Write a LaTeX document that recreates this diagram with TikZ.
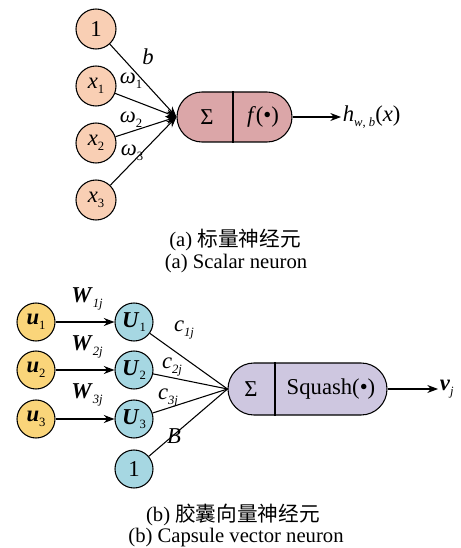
\documentclass[tikz,border=0pt]{standalone}
\usepackage{fontspec}
\setmainfont{Liberation Serif}
\newfontfamily\tnr{Liberation Serif}
\newfontfamily\cjk{Noto Sans CJK SC}
\usetikzlibrary{arrows.meta,shapes.misc}

\definecolor{peachA}{RGB}{249,207,180}
\definecolor{pinkA}{RGB}{219,166,168}
\definecolor{yellowB}{RGB}{250,213,122}
\definecolor{blueB}{RGB}{166,215,226}
\definecolor{lavenderB}{RGB}{206,199,224}

\newcommand{\sbs}[1]{\raisebox{-0.45ex}{\fontsize{9.5}{10}\selectfont #1}}
\newcommand{\bi}[1]{\textbf{\textit{#1}}}

\tikzset{
    unit/.style={circle, draw, line width=0.8pt, minimum size=30pt, inner sep=0pt, font=\tnr\fontsize{17}{19}\selectfont},
    neuron/.style={rounded rectangle, draw, line width=0.8pt, inner sep=0pt},
    wlabel/.style={font=\tnr\fontsize{17}{19}\selectfont, inner sep=1pt},
    caption/.style={font=\tnr\fontsize{15.5}{18}\selectfont, inner sep=1pt}
}

\begin{document}
\begin{tikzpicture}[x=0.75pt, y=-0.75pt, >={Stealth[length=8pt,width=6pt]}, line width=0.8pt]
    \useasboundingbox (0,0) rectangle (460,548);

    % (a) 标量神经元
    \node[unit, fill=peachA] (one) at (96,29) {1};
    \node[unit, fill=peachA] (xa) at (96,86) {\textit{x}\sbs{1}};
    \node[unit, fill=peachA] (xb) at (96,143) {\textit{x}\sbs{2}};
    \node[unit, fill=peachA] (xc) at (96,200) {\textit{x}\sbs{3}};

    \node[neuron, fill=pinkA, minimum width=86.25pt, minimum height=37.5pt] (neuA) at (234.5,117) {};
    \coordinate (divA) at (233,117);
    \draw (divA |- neuA.north) -- (divA |- neuA.south);
    \node[wlabel] (sumA) at (207,117) {Σ};
    \node[wlabel] (actA) at (263,117) {\textit{f}(•)};

    \draw[->] (one) -- (neuA.west);
    \draw[->] (xa) -- (neuA.west);
    \draw[->] (xb) -- (neuA.west);
    \draw[->] (xc) -- (neuA.west);

    \node[wlabel] (lb) at (148,57) {\textit{b}};
    \node[wlabel] (lwa) at (131,81) {\textit{ω}\sbs{1}};
    \node[wlabel] (lwb) at (131,120) {\textit{ω}\sbs{2}};
    \node[wlabel] (lwc) at (132,153) {\textit{ω}\sbs{3}};

    \node[wlabel, anchor=west] (outA) at (341,117) {\textit{h}\sbs{\textit{w}, \textit{b}}(\textit{x})};
    \draw[->] (neuA.east) -- (outA.west);

    \node[caption] (capAa) at (235,240) {(a) {\cjk 标量神经元}};
    \node[caption] (capAb) at (236,264) {(a) Scalar neuron};

    % (b) 胶囊向量神经元
    \node[unit, fill=yellowB, minimum size=28.5pt] (ua) at (36,322) {\bi{u}\sbs{1}};
    \node[unit, fill=yellowB, minimum size=28.5pt] (ub) at (36,370) {\bi{u}\sbs{2}};
    \node[unit, fill=yellowB, minimum size=28.5pt] (uc) at (36,419) {\bi{u}\sbs{3}};

    \node[unit, fill=blueB, minimum size=28.5pt] (Ua) at (134,322) {\bi{U}\sbs{1}};
    \node[unit, fill=blueB, minimum size=28.5pt] (Ub) at (134,370) {\bi{U}\sbs{2}};
    \node[unit, fill=blueB, minimum size=28.5pt] (Uc) at (134,419) {\bi{U}\sbs{3}};
    \node[unit, fill=blueB, minimum size=28.5pt] (oneB) at (134,469) {1};

    \draw[->] (ua) -- (Ua);
    \draw[->] (ub) -- (Ub);
    \draw[->] (uc) -- (Uc);
    \node[wlabel] (lWa) at (87,299) {\bi{W}\sbs{\textit{1j}}};
    \node[wlabel] (lWb) at (87,347) {\bi{W}\sbs{\textit{2j}}};
    \node[wlabel] (lWc) at (87,395) {\bi{W}\sbs{\textit{3j}}};

    \node[neuron, fill=lavenderB, minimum width=119.25pt, minimum height=39pt] (neuB) at (307.5,389) {};
    \coordinate (divB) at (275,389);
    \draw (divB |- neuB.north) -- (divB |- neuB.south);
    \node[wlabel] (sumB) at (251,389) {Σ};
    \node[wlabel] (actB) at (331,389) {Squash(•)};

    \draw (Ua) -- (neuB.west);
    \draw (Ub) -- (neuB.west);
    \draw (Uc) -- (neuB.west);
    \draw (oneB) -- (neuB.west);

    \node[wlabel] (lca) at (184,330) {\textit{c}\sbs{\textit{1j}}};
    \node[wlabel] (lcb) at (172,367) {\textit{c}\sbs{\textit{2j}}};
    \node[wlabel] (lcc) at (168,398) {\textit{c}\sbs{\textit{3j}}};
    \node[wlabel] (lB) at (174,436) {\textit{B}};

    \node[wlabel, anchor=west] (outB) at (438,389) {\bi{v}\sbs{\textit{j}}};
    \draw[->] (neuB.east) -- (outB.west);

    \node[caption] (capBa) at (233,515) {(b) {\cjk 胶囊向量神经元}};
    \node[caption] (capBb) at (236,538) {(b) Capsule vector neuron};
\end{tikzpicture}
\end{document}
